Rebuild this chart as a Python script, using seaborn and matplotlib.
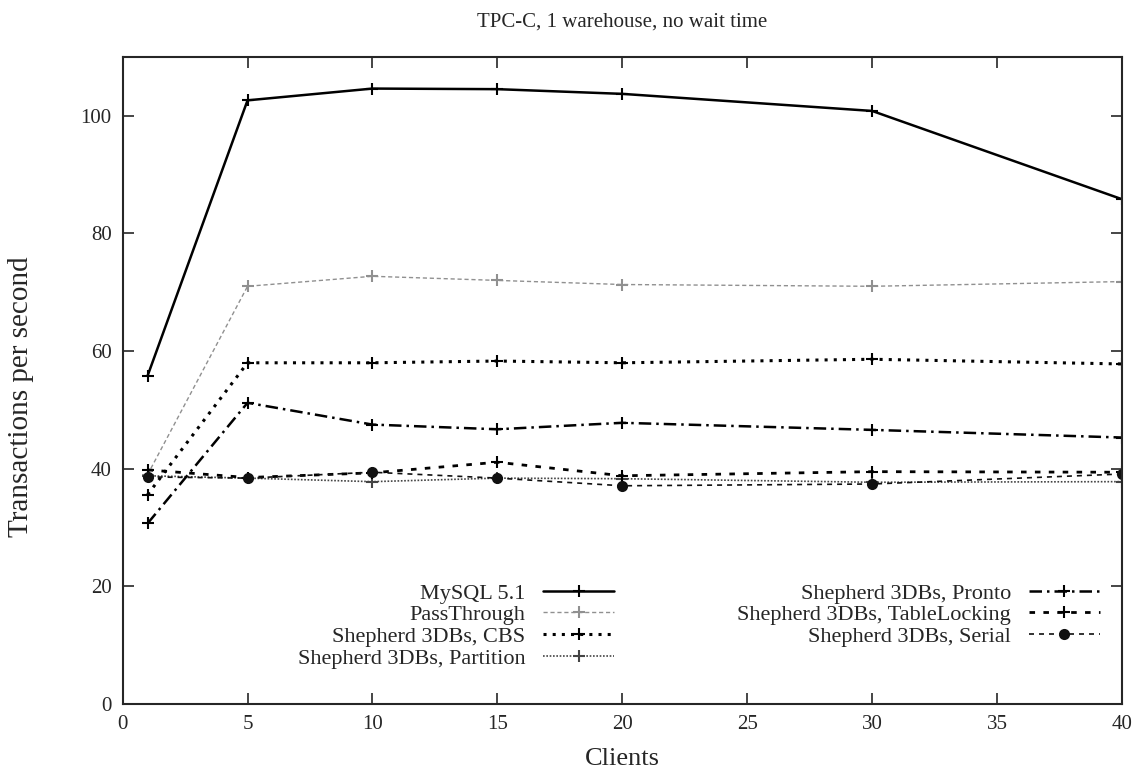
"""
TPC-C throughput vs. number of clients (1 warehouse, no wait time).
"""

import matplotlib
matplotlib.use("Agg")
import matplotlib.pyplot as plt
import seaborn as sns

# --- data ---
clients = [1, 5, 10, 15, 20, 30, 40]

mysql = [55.8, 102.6, 104.6, 104.5, 103.7, 100.8, 85.8]
passthrough = [39.0, 71.0, 72.7, 72.0, 71.3, 71.0, 71.8]
cbs = [35.6, 58.0, 58.0, 58.3, 58.0, 58.6, 57.8]
partition = [38.8, 38.4, 37.8, 38.4, 38.3, 37.7, 37.8]
pronto = [30.7, 51.2, 47.5, 46.7, 47.8, 46.6, 45.3]
tablelocking = [39.8, 38.5, 39.3, 41.1, 38.8, 39.5, 39.4]
serial = [38.6, 38.4, 39.4, 38.4, 37.1, 37.4, 39.1]

x_ticks = [0, 5, 10, 15, 20, 25, 30, 35, 40]
y_ticks = [0, 20, 40, 60, 80, 100]

sns.set_style("ticks")
plt.rcParams["font.family"] = ["Liberation Serif", "DejaVu Serif"]
plt.rcParams["xtick.direction"] = "in"
plt.rcParams["ytick.direction"] = "in"

fig, ax = plt.subplots(figsize=(11.46, 7.78), dpi=100)
fig.subplots_adjust(left=0.107, right=0.979, top=0.927, bottom=0.095)

series = [
    ("MySQL 5.1", mysql, dict(color="black", linestyle="-", linewidth=1.8, marker="+")),
    ("PassThrough", passthrough, dict(color="#909090", linestyle=(0, (3, 2)), linewidth=1.0, marker="+")),
    ("Shepherd 3DBs, CBS", cbs, dict(color="black", linestyle=(0, (1, 2)), linewidth=2.2, marker="+")),
    ("Shepherd 3DBs, Partition", partition, dict(color="#444444", linestyle=(0, (1, 1)), linewidth=1.2, marker="+")),
    ("Shepherd 3DBs, Pronto", pronto, dict(color="black", linestyle=(0, (5, 2, 1, 2)), linewidth=1.8, marker="+")),
    ("Shepherd 3DBs, TableLocking", tablelocking, dict(color="black", linestyle=(0, (2, 3)), linewidth=2.0, marker="+")),
    ("Shepherd 3DBs, Serial", serial, dict(color="#111111", linestyle=(0, (3, 3)), linewidth=1.2, marker="o")),
]

for label, values, style in series:
    ms = 6.5 if style["marker"] == "o" else 8
    sns.lineplot(x=clients, y=values, ax=ax, label=label, markersize=ms,
                 markeredgewidth=1.5, markeredgecolor=style["color"],
                 markerfacecolor=style["color"], **style)

handles, labels = ax.get_legend_handles_labels()
ax.get_legend().remove()

leg_kw = dict(frameon=False, markerfirst=False, loc="upper right",
              borderaxespad=0, borderpad=0, fontsize=16,
              handlelength=3.2, labelspacing=0.05, handletextpad=0.8)
left_leg = ax.legend(handles[:4], labels[:4], bbox_to_anchor=(0.492, 0.187), **leg_kw)
ax.add_artist(left_leg)
ax.legend(handles[4:], labels[4:], bbox_to_anchor=(0.978, 0.187), **leg_kw)

ax.set_xlim(0, 40)
ax.set_ylim(0, 110)
ax.set_xticks(x_ticks)
ax.set_yticks(y_ticks)
ax.tick_params(axis="both", labelsize=15, length=8, width=1.2,
               top=True, right=True, pad=8)
for spine in ax.spines.values():
    spine.set_visible(True)
    spine.set_linewidth(1.5)

ax.set_xlabel("Clients", fontsize=19, labelpad=10)
ax.set_ylabel("Transactions per second", fontsize=21)
ax.yaxis.set_label_coords(-0.089, 0.475)
ax.set_title("TPC-C, 1 warehouse, no wait time", fontsize=15, pad=22)

fig.savefig("out.png", dpi=100)
plt.close(fig)
